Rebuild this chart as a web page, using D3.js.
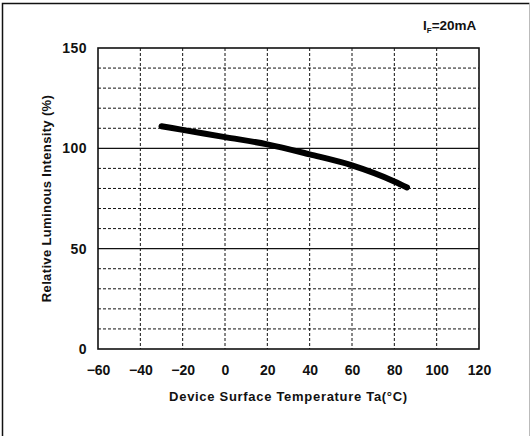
<!DOCTYPE html>
<html>
<head>
<meta charset="utf-8">
<script src="https://cdn.jsdelivr.net/npm/d3@7"></script>
<style>
  body { margin: 0; background: #fff; }
  text { font-family: "Liberation Sans", Arial, sans-serif; font-weight: bold; fill: #111; }
</style>
</head>
<body>
<div id="plot"></div>
<script>
// curve
var temps = [-30, -20, 0, 20, 40, 60, 80, 86]
var intensity = [111, 109.2, 105.6, 102, 97, 91.5, 83.5, 80.5]
var xTicks = [-60, -40, -20, 0, 20, 40, 60, 80, 100, 120]
var yTicks = [0, 50, 100, 150]
var yMinor = [10, 20, 30, 40, 60, 70, 80, 90, 110, 120, 130, 140]

var W = 531, H = 436
var margin = { top: 48, right: 52, bottom: 87, left: 98 }
var width = W - margin.left - margin.right
var height = H - margin.top - margin.bottom

var svg = d3.select('#plot').append('svg')
  .attr('width', W)
  .attr('height', H)

// outer frame (open at the bottom, like the scan)
svg.append('path')
  .attr('d', 'M2.5,' + H + 'V3.5H529.5')
  .style('fill', 'none')
  .style('stroke', '#111')
  .style('stroke-width', 1.5)
svg.append('line')
  .attr('x1', 529.5).attr('x2', 529.5)
  .attr('y1', 3.5).attr('y2', H)
  .style('stroke', '#bbb')
  .style('stroke-width', 1)

var xScale = d3.scaleLinear().domain([-60, 120]).range([0, width])
var yScale = d3.scaleLinear().domain([0, 150]).range([height, 0])

var g = svg.append('g')
  .attr('transform', 'translate(' + margin.left + ',' + margin.top + ')')

// dotted minor grid
g.selectAll('.hgrid').data(yMinor).enter().append('line')
  .attr('class', 'hgrid')
  .attr('x1', 0).attr('x2', width)
  .attr('y1', function(d) { return yScale(d) })
  .attr('y2', function(d) { return yScale(d) })
  .style('stroke', '#111')
  .style('stroke-width', 1)
  .style('stroke-dasharray', '3,2')

g.selectAll('.vgrid').data(xTicks.slice(1, -1)).enter().append('line')
  .attr('class', 'vgrid')
  .attr('y1', 0).attr('y2', height)
  .attr('x1', function(d) { return xScale(d) })
  .attr('x2', function(d) { return xScale(d) })
  .style('stroke', '#111')
  .style('stroke-width', 1)
  .style('stroke-dasharray', '3,2')

// solid lines at 50 and 100
g.selectAll('.major').data([50, 100]).enter().append('line')
  .attr('class', 'major')
  .attr('x1', 0).attr('x2', width)
  .attr('y1', function(d) { return yScale(d) })
  .attr('y2', function(d) { return yScale(d) })
  .style('stroke', '#111')
  .style('stroke-width', 1.3)

g.append('rect')
  .attr('width', width)
  .attr('height', height)
  .style('fill', 'none')
  .style('stroke', '#111')
  .style('stroke-width', 1.6)

var xAxis = d3.axisBottom(xScale).tickValues(xTicks).tickSize(0).tickPadding(14)
  .tickFormat(function(d) { return d < 0 ? '\u2212' + (-d) : d })
var yAxis = d3.axisLeft(yScale).tickValues(yTicks).tickSize(0).tickPadding(11)

var gx = g.append('g').attr('transform', 'translate(0,' + height + ')').call(xAxis)
var gy = g.append('g').call(yAxis)
gx.select('.domain').remove()
gy.select('.domain').remove()
gx.selectAll('text').style('font-size', '14px').attr('dy', '0.85em')
gy.selectAll('text').style('font-size', '14px').style('letter-spacing', '0.5px')

var plotLine = d3.line()
  .curve(d3.curveMonotoneX)
  .x(function(d, i) { return xScale(temps[i]) })
  .y(function(d) { return yScale(d) })

g.append('path')
  .datum(intensity)
  .attr('d', plotLine)
  .style('fill', 'none')
  .style('stroke', '#000')
  .style('stroke-width', 6)
  .style('stroke-linecap', 'round')

svg.append('text')
  .attr('x', margin.left + width / 2)
  .attr('y', 401)
  .attr('text-anchor', 'middle')
  .style('font-size', '13px')
  .style('letter-spacing', '0.7px')
  .text('Device Surface Temperature Ta(\u00B0C)')

svg.append('text')
  .attr('transform', 'translate(51,' + (margin.top + height / 2) + ') rotate(-90)')
  .attr('text-anchor', 'middle')
  .style('font-size', '13px')
  .style('letter-spacing', '0.35px')
  .text('Relative Luminous Intensity (%)')

var cond = svg.append('text')
  .attr('x', 423)
  .attr('y', 30)
  .style('font-size', '13.5px')
cond.append('tspan').text('I')
cond.append('tspan').attr('dy', 3).style('font-size', '8px').text('F')
cond.append('tspan').attr('dy', -3).text('=20mA')
</script>
</body>
</html>
